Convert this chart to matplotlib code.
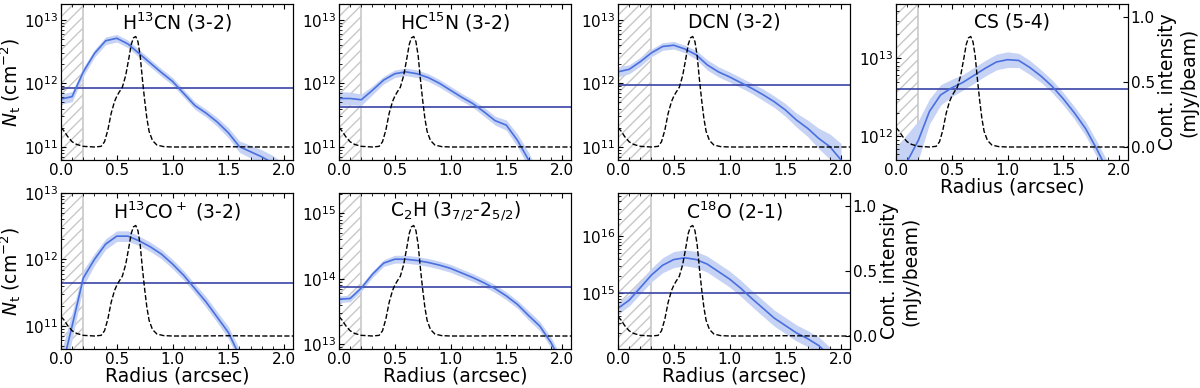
import numpy as np
import matplotlib
matplotlib.use("Agg")
import matplotlib.pyplot as plt
from matplotlib.ticker import MultipleLocator, LogLocator, NullFormatter

##############################
# radius grid of the column density profiles (arcsec)
radius = [0.0, 0.1, 0.2, 0.3, 0.4, 0.5, 0.6, 0.7, 0.8, 0.9, 1.0,
          1.1, 1.2, 1.3, 1.4, 1.5, 1.6, 1.7, 1.8, 1.9, 2.0]

# log10 N_t per molecule
h13cn = [11.75, 11.79, 12.18, 12.47, 12.67, 12.71, 12.62, 12.47, 12.32, 12.17, 12.03,
         11.84, 11.65, 11.53, 11.39, 11.22, 11.00, 10.92, 10.84, 10.74, 10.60]
hc15n = [11.76, 11.76, 11.74, 11.89, 12.05, 12.15, 12.18, 12.15, 12.09, 12.00, 11.89,
         11.78, 11.68, 11.55, 11.41, 11.34, 11.10, 10.79, 10.40, 10.10, 9.90]
dcn = [12.18, 12.22, 12.34, 12.48, 12.58, 12.60, 12.54, 12.45, 12.29, 12.18, 12.10,
       12.01, 11.92, 11.82, 11.71, 11.58, 11.42, 11.29, 11.13, 11.00, 10.79]
cs = [11.40, 11.68, 11.95, 12.32, 12.53, 12.62, 12.69, 12.78, 12.87, 12.95, 12.98,
      12.97, 12.88, 12.77, 12.64, 12.48, 12.30, 12.10, 11.84, 11.55, 11.30]
h13cop = [10.30, 11.00, 11.72, 12.00, 12.23, 12.35, 12.35, 12.28, 12.19, 12.08, 11.93,
          11.76, 11.56, 11.36, 11.13, 10.90, 10.55, 10.20, 9.90, 9.60, 9.30]
c2h = [13.69, 13.70, 13.86, 14.07, 14.24, 14.30, 14.30, 14.28, 14.25, 14.21, 14.16,
       14.09, 14.02, 13.94, 13.85, 13.74, 13.61, 13.44, 13.28, 13.03, 12.70]
c18o = [14.74, 14.88, 15.10, 15.32, 15.49, 15.59, 15.62, 15.59, 15.51, 15.38, 15.25,
        15.09, 14.91, 14.74, 14.57, 14.44, 14.31, 14.21, 14.09, 13.90, 13.70]

# 1-sigma uncertainty (dex)
err_h13cn = [0.08, 0.08, 0.07, 0.06, 0.06, 0.06, 0.06, 0.06, 0.06, 0.06, 0.06,
             0.06, 0.06, 0.06, 0.07, 0.08, 0.09, 0.10, 0.11, 0.12, 0.13]
err_hc15n = [0.11, 0.10, 0.09, 0.07, 0.06, 0.06, 0.06, 0.06, 0.06, 0.06, 0.06,
             0.06, 0.06, 0.07, 0.07, 0.08, 0.10, 0.12, 0.14, 0.15, 0.16]
err_dcn = [0.08, 0.07, 0.07, 0.06, 0.06, 0.06, 0.06, 0.07, 0.08, 0.08, 0.08,
           0.08, 0.08, 0.09, 0.09, 0.10, 0.11, 0.13, 0.16, 0.20, 0.26]
err_cs = [0.45, 0.35, 0.25, 0.16, 0.13, 0.11, 0.10, 0.10, 0.10, 0.10, 0.10,
          0.09, 0.09, 0.08, 0.08, 0.08, 0.08, 0.09, 0.10, 0.12, 0.14]
err_h13cop = [0.30, 0.20, 0.12, 0.09, 0.08, 0.08, 0.08, 0.07, 0.07, 0.07, 0.07,
              0.07, 0.07, 0.08, 0.08, 0.09, 0.10, 0.12, 0.14, 0.16, 0.18]
err_c2h = [0.05, 0.05, 0.05, 0.05, 0.05, 0.06, 0.06, 0.06, 0.06, 0.06, 0.06,
           0.06, 0.06, 0.06, 0.06, 0.06, 0.06, 0.07, 0.07, 0.08, 0.09]
err_c18o = [0.10, 0.10, 0.11, 0.12, 0.13, 0.14, 0.14, 0.14, 0.14, 0.14, 0.14,
            0.14, 0.14, 0.14, 0.14, 0.14, 0.14, 0.14, 0.15, 0.16, 0.17]

# horizontal reference level per molecule (log10 N_t)
levels = [11.92, 11.63, 11.97, 12.60, 11.65, 13.87, 15.00]

# continuum radial profile (mJy/beam)
cont_r = [0.0, 0.03, 0.06, 0.1, 0.14, 0.2, 0.3, 0.36, 0.39, 0.42, 0.45, 0.48, 0.5,
          0.52, 0.55, 0.58, 0.61, 0.63, 0.65, 0.67, 0.69, 0.71, 0.73, 0.75, 0.77,
          0.79, 0.82, 0.86, 0.92, 1.0, 1.2, 1.5, 1.8, 2.1]
cont_i = [0.15, 0.12, 0.08, 0.04, 0.02, 0.005, 0.0, 0.005, 0.04, 0.13, 0.26, 0.35,
          0.39, 0.42, 0.46, 0.55, 0.69, 0.79, 0.84, 0.85, 0.81, 0.70, 0.52, 0.36,
          0.22, 0.12, 0.05, 0.015, 0.003, 0.0, 0.0, 0.002, 0.0, 0.0]

titles = ["H$^{13}$CN (3-2)", "HC$^{15}$N (3-2)", "DCN (3-2)", "CS (5-4)",
          "H$^{13}$CO$^+$ (3-2)", "C$_2$H (3$_{7/2}$-2$_{5/2}$)", "C$^{18}$O (2-1)"]
profiles = [h13cn, hc15n, dcn, cs, h13cop, c2h, c18o]
errors = [err_h13cn, err_hc15n, err_dcn, err_cs, err_h13cop, err_c2h, err_c18o]
inner = [0.2, 0.2, 0.3, 0.2, 0.2, 0.2, 0.3]
ylims = [(10.79, 13.25), (10.79, 13.25), (10.79, 13.25), (11.70, 13.69),
         (10.65, 13.0), (12.93, 15.31), (14.03, 16.75)]
#############################
fig = plt.figure(figsize=(12, 3.88), dpi=100)
lefts = [61/1200, 339/1200, 618/1200, 896/1200]
w = 232/1200
h = 156/388
bottoms = [1 - 160/388, 1 - 349/388]
pos = [(0, 0), (0, 1), (0, 2), (0, 3), (1, 0), (1, 1), (1, 2)]

blue = "#4a70e0"
for k in range(7):
    row, col = pos[k]
    ax = fig.add_axes([lefts[col], bottoms[row], w, h])
    r = np.array(radius)
    y = np.array(profiles[k])
    e = np.array(errors[k])
    ax.fill_between(r, 10**(y - e), 10**(y + e), color="#c6d3f5", lw=0, zorder=1)
    ax.plot(r, 10**y, color=blue, lw=1.2, zorder=3)
    ax.axhline(10**levels[k], color="#3a43a5", lw=1.2, zorder=2)
    ax.axvspan(0, inner[k], facecolor="none", edgecolor="#c8c8c8", hatch="///", lw=0, zorder=0)
    ax.axvline(inner[k], color="#c8c8c8", lw=1.2, zorder=0)
    ax.set_yscale("log")
    ax.set_ylim(10**ylims[k][0], 10**ylims[k][1])
    ax.set_xlim(0, 2.08)
    ax.xaxis.set_major_locator(MultipleLocator(0.5))
    ax.xaxis.set_minor_locator(MultipleLocator(0.1))
    ax.yaxis.set_major_locator(LogLocator(base=10))
    ax.yaxis.set_minor_locator(LogLocator(base=10, subs=np.arange(2, 10)))
    ax.yaxis.set_minor_formatter(NullFormatter())
    ax.tick_params(which="both", direction="in", top=True, right=True, labelsize=11, pad=2)
    ax.text(0.5, 0.885, titles[k], transform=ax.transAxes, ha="center", va="center", fontsize=13.5)
    if col == 0:
        ax.set_ylabel("$N_{\\rm t}$ (cm$^{-2}$)", fontsize=13.5)
        ax.yaxis.set_label_coords(-0.165, 0.5)
    if row == 1 or col == 3:
        ax.set_xlabel("Radius (arcsec)", fontsize=13.5, labelpad=0)

    ax2 = ax.twinx()
    ax2.plot(cont_r, cont_i, color="black", ls="--", lw=1.0)
    ax2.set_ylim(-0.1, 1.1)
    if k in (3, 6):
        ax2.yaxis.set_major_locator(MultipleLocator(0.5))
        ax2.tick_params(direction="in", labelsize=11, pad=2)
        ax2.set_ylabel("Cont. intensity\n(mJy/beam)", fontsize=13.5, labelpad=2)
    else:
        ax2.tick_params(right=False, labelright=False)

fig.savefig("out.png", dpi=100)
